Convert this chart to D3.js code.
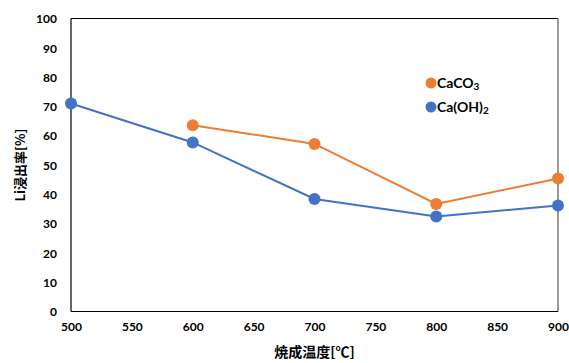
<!DOCTYPE html>
<html>
<head>
<meta charset="utf-8">
<script src="https://cdn.jsdelivr.net/npm/d3@7"></script>
<style>
  html, body { margin: 0; padding: 0; background: #fff; }
  svg { display: block; }
  text { font-family: "Lato", "Noto Sans CJK JP", sans-serif; font-weight: bold; fill: #000; }
  .cjk { font-family: "Noto Sans CJK JP", "Lato", sans-serif; }
</style>
</head>
<body>
<svg id="chart" width="569" height="363"></svg>
<script>
// Firing temperature (°C) and Li leaching rate (%) per additive
const temperatures = [500, 600, 700, 800, 900];
const caco3Values = [null, 63.6, 57.2, 36.7, 45.4];
const caoh2Values = [71.0, 57.7, 38.4, 32.4, 36.2];
const xTicks = [500, 550, 600, 650, 700, 750, 800, 850, 900];
const yTicks = [0, 10, 20, 30, 40, 50, 60, 70, 80, 90, 100];

const series = [
  { name: "CaCO", sub: "3", values: caco3Values, color: "#ED7D31" },
  { name: "Ca(OH)", sub: "2", values: caoh2Values, color: "#4472C4" }
];

const svg = d3.select("#chart");
const margin = { left: 71, right: 11, top: 18.5, bottom: 51.5 };
const W = 569, H = 363;

const x = d3.scaleLinear().domain([500, 900]).range([margin.left, W - margin.right]);
const y = d3.scaleLinear().domain([0, 100]).range([H - margin.bottom, margin.top]);

// Y axis labels
const yAxis = d3.axisLeft(y).tickValues(yTicks).tickSize(0).tickPadding(14);
const gy = svg.append("g").attr("transform", `translate(${margin.left},0)`).call(yAxis);
gy.select(".domain").remove();
gy.selectAll("text").attr("font-size", 12).attr("dy", "0.35em");

// X axis labels
const xAxis = d3.axisBottom(x).tickValues(xTicks).tickSize(0).tickPadding(11);
const gx = svg.append("g").attr("transform", `translate(0,${H - margin.bottom})`).call(xAxis);
gx.select(".domain").remove();
gx.selectAll("text").attr("font-size", 12);

// Plot frame: black left/bottom/top, grey right
const x0 = x(500), x1 = x(900), y0 = y(0), y1 = y(100);
svg.append("line").attr("x1", x0).attr("x2", x1).attr("y1", y1).attr("y2", y1)
  .attr("stroke", "#000").attr("stroke-width", 1.2);
svg.append("line").attr("x1", x1).attr("x2", x1).attr("y1", y1).attr("y2", y0)
  .attr("stroke", "#808080").attr("stroke-width", 1.6);
svg.append("line").attr("x1", x0).attr("x2", x0).attr("y1", y1).attr("y2", y0)
  .attr("stroke", "#000").attr("stroke-width", 1.2);
svg.append("line").attr("x1", x0).attr("x2", x1).attr("y1", y0).attr("y2", y0)
  .attr("stroke", "#000").attr("stroke-width", 1.2);

// Series lines and markers
const line = d3.line()
  .defined(d => d.v != null)
  .x(d => x(d.t))
  .y(d => y(d.v));

series.forEach(s => {
  const pts = temperatures.map((t, i) => ({ t, v: s.values[i] }));
  svg.append("path").datum(pts)
    .attr("d", line)
    .attr("fill", "none")
    .attr("stroke", s.color)
    .attr("stroke-width", 2);
  svg.append("g").selectAll("circle")
    .data(pts.filter(d => d.v != null))
    .join("circle")
    .attr("cx", d => x(d.t))
    .attr("cy", d => y(d.v))
    .attr("r", 6)
    .attr("fill", s.color);
});

// Legend
const legend = svg.append("g").attr("transform", "translate(431,83)");
series.forEach((s, i) => {
  const g = legend.append("g").attr("transform", `translate(0,${i * 24})`);
  g.append("circle").attr("r", 5.5).attr("fill", s.color);
  const t = g.append("text").attr("x", 6).attr("dy", "0.36em").attr("font-size", 14);
  t.append("tspan").text(s.name);
  t.append("tspan").attr("font-size", 10).attr("dy", "0.15em").text(s.sub);
});

// Axis titles
svg.append("text")
  .attr("class", "cjk")
  .attr("transform", `translate(25,${(y0 + y1) / 2}) rotate(-90)`)
  .attr("text-anchor", "middle")
  .attr("font-size", 13)
  .text("Li浸出率[%]");

svg.append("text")
  .attr("class", "cjk")
  .attr("x", (x0 + x1) / 2)
  .attr("y", 357)
  .attr("text-anchor", "middle")
  .attr("font-size", 14)
  .text("焼成温度[℃]");
</script>
</body>
</html>
